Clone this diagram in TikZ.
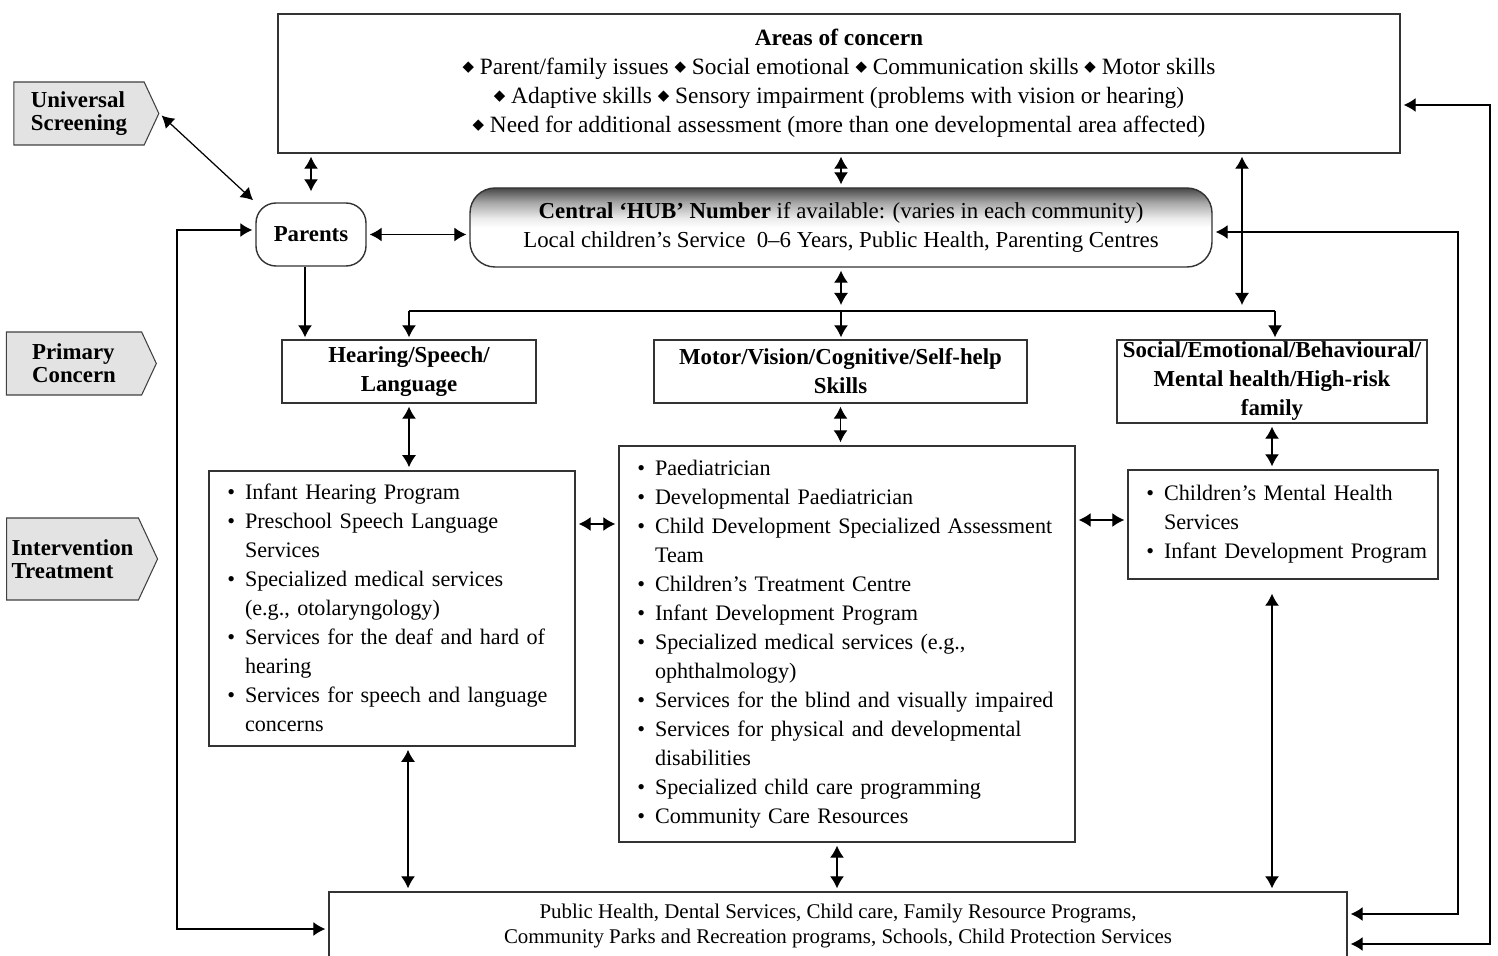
\documentclass[tikz,border=0pt]{standalone}
\usepackage{fontspec}
\setmainfont{Liberation Serif}
\newfontfamily\symbolfont{DejaVu Sans}
\usepackage{enumitem}
\setlist[itemize]{nosep,leftmargin=0.52cm,labelsep=0.2cm}
\usetikzlibrary{arrows.meta,shapes.symbols}
\pgfdeclareverticalshading{hubshade}{100bp}{color(0bp)=(white); color(50bp)=(white); color(56bp)=(black!8); color(66bp)=(black!35); color(75bp)=(black!72); color(100bp)=(black!72)}
\newcommand{\dia}{\raisebox{0.15em}{\symbolfont\fontsize{8.5}{8.5}\selectfont ◆}}

\begin{document}
\begin{tikzpicture}[font=\fontsize{13}{16.5}\selectfont,
  box/.style={draw=black!80, line width=0.8pt, fill=white, inner sep=0pt},
  tag/.style={signal, signal to=east, signal pointer angle=130, draw=black!75, fill=black!11, line width=0.6pt, align=left, inner sep=0pt, font=\bfseries\fontsize{13}{13}\selectfont},
  headbox/.style={box, align=center, font=\bfseries\fontsize{13}{16.5}\selectfont},
  listbox/.style={box, align=left, inner xsep=0.2cm, font=\fontsize{12.6}{16.5}\selectfont, execute at end node=\vspace{0.28cm}},
  link/.style={line width=0.7pt, {Latex[length=0.24cm,width=0.28cm]}-{Latex[length=0.24cm,width=0.28cm]}, shorten <=0.06cm, shorten >=0.06cm},
  onelink/.style={line width=0.7pt, -{Latex[length=0.24cm,width=0.28cm]}, shorten >=0.04cm}]
\useasboundingbox (0cm,0cm) rectangle (29.96cm,19.1cm);

\node [box, align=center, minimum width=22.44cm, minimum height=2.78cm, font=\fontsize{13.3}{16.5}\selectfont] (areas) at (16.78cm,17.43cm) {\textbf{Areas of concern}\\ \dia\ Parent/family issues \dia\ Social emotional \dia\ Communication skills \dia\ Motor skills\\ \dia\ Adaptive skills \dia\ Sensory impairment (problems with vision or hearing)\\ \dia\ Need for additional assessment (more than one developmental area affected)};

\node [tag, minimum width=2.9cm, minimum height=1.26cm] (screen) at (1.58cm,16.83cm) {Universal\\Screening};
\node [tag, minimum width=3.0cm, minimum height=1.26cm] (primary) at (1.48cm,11.83cm) {Primary\\Concern};
\node [tag, minimum width=3.02cm, minimum height=1.64cm] (interv) at (1.45cm,7.92cm) {Intervention\\Treatment};

\node [box, rounded corners=0.4cm, minimum width=2.2cm, minimum height=1.26cm] (parents) at (6.22cm,14.41cm) {\textbf{Parents}};
\node [box, shading=hubshade, rounded corners=0.5cm, align=center, minimum width=14.84cm, minimum height=1.58cm] (hub) at (16.82cm,14.55cm) {\textbf{Central ‘HUB’ Number} if available: (varies in each community)\\ Local children’s Service\ \ 0–6 Years, Public Health, Parenting Centres};

\node [headbox, minimum width=5.08cm, minimum height=1.26cm] (hear) at (8.18cm,11.67cm) {Hearing/Speech/\\Language};
\node [headbox, minimum width=7.46cm, minimum height=1.26cm] (motor) at (16.81cm,11.67cm) {Motor/Vision/Cognitive/Self-help\\Skills};
\node [headbox, minimum width=6.2cm, minimum height=1.66cm] (social) at (25.44cm,11.47cm) {Social/Emotional/Behavioural/\\Mental health/High-risk\\family};

\node [listbox, text width=6.92cm, minimum height=5.5cm] (left) at (7.84cm,6.93cm) {\begin{itemize}
\item Infant Hearing Program
\item Preschool Speech Language\\Services
\item Specialized medical services\\(e.g., otolaryngology)
\item Services for the deaf and hard of\\hearing
\item Services for speech and language\\concerns
\end{itemize}};
\node [listbox, text width=8.72cm, minimum height=7.92cm] (mid) at (16.94cm,6.22cm) {\begin{itemize}
\item Paediatrician
\item Developmental Paediatrician
\item Child Development Specialized Assessment\\Team
\item Children’s Treatment Centre
\item Infant Development Program
\item Specialized medical services (e.g.,\\ophthalmology)
\item Services for the blind and visually impaired
\item Services for physical and developmental\\disabilities
\item Specialized child care programming
\item Community Care Resources
\end{itemize}};
\node [listbox, text width=5.8cm, minimum height=2.18cm] (right) at (25.66cm,8.61cm) {\begin{itemize}
\item Children’s Mental Health\\Services
\item Infant Development Program
\end{itemize}};

\node [box, align=center, minimum width=20.36cm, minimum height=1.36cm, font=\fontsize{11.9}{14.3}\selectfont] (bottom) at (16.76cm,0.58cm) {Public Health, Dental Services, Child care, Family Resource Programs,\\Community Parks and Recreation programs, Schools, Child Protection Services};

\coordinate (busL) at (8.18cm,12.88cm);
\coordinate (busR) at (25.5cm,12.88cm);
\coordinate (socialtap) at (24.84cm,12.88cm);
\coordinate (lloop) at (3.54cm,0cm);
\coordinate (rloop) at (29.16cm,0cm);
\coordinate (oloop) at (29.8cm,0cm);

\draw [link] (screen.east) -- (parents.north west);
\draw [link, shorten >=0.22cm] (parents.north |- areas.south) -- (parents.north);
\draw [link] (hub.north |- areas.south) -- (hub.north);
\draw [link, shorten >=0.12cm] (socialtap |- areas.south) -- (socialtap);
\draw [link] (parents.east) -- (parents.east -| hub.west);
\draw [onelink] ([xshift=-0.12cm]parents.south) -- ([xshift=-0.12cm]parents.south |- hear.north);
\draw [link, shorten >=0.12cm] (hub.south) -- (hub.south |- busL);
\draw [line width=0.7pt] (busL) -- (busR);
\draw [onelink] (busL) -- (hear.north);
\draw [onelink] (hub.south |- busL) -- (hub.south |- motor.north);
\draw [onelink] (busR) -- (busR |- social.north);
\draw [link] (hear.south) -- (hear.south |- left.north);
\draw [link] (motor.south) -- (motor.south |- mid.north);
\draw [link] (social.south) -- (social.south |- right.north);
\draw [link] ([yshift=1.69cm]left.east) -- ([yshift=1.69cm]left.east -| mid.west);
\draw [link] ([yshift=0.09cm]right.west) -- ([yshift=0.09cm]right.west -| mid.east);
\draw [link] ([xshift=0.32cm]left.south) -- ([xshift=0.32cm]left.south |- bottom.north);
\draw [link] ([xshift=-0.2cm]mid.south) -- ([xshift=-0.2cm]mid.south |- bottom.north);
\draw [link, shorten <=0.28cm] (social.south |- right.south) -- (social.south |- bottom.north);
\draw [link] ([yshift=0.09cm]parents.west) -| ([yshift=-0.06cm]bottom.west -| lloop) -- ([yshift=-0.06cm]bottom.west);
\draw [link] ([yshift=-0.09cm]hub.east) -| ([yshift=0.24cm]bottom.east -| rloop) -- ([yshift=0.24cm]bottom.east);
\draw [link] ([yshift=-0.43cm]areas.east) -| ([yshift=-0.36cm]bottom.east -| oloop) -- ([yshift=-0.36cm]bottom.east);
\end{tikzpicture}
\end{document}
